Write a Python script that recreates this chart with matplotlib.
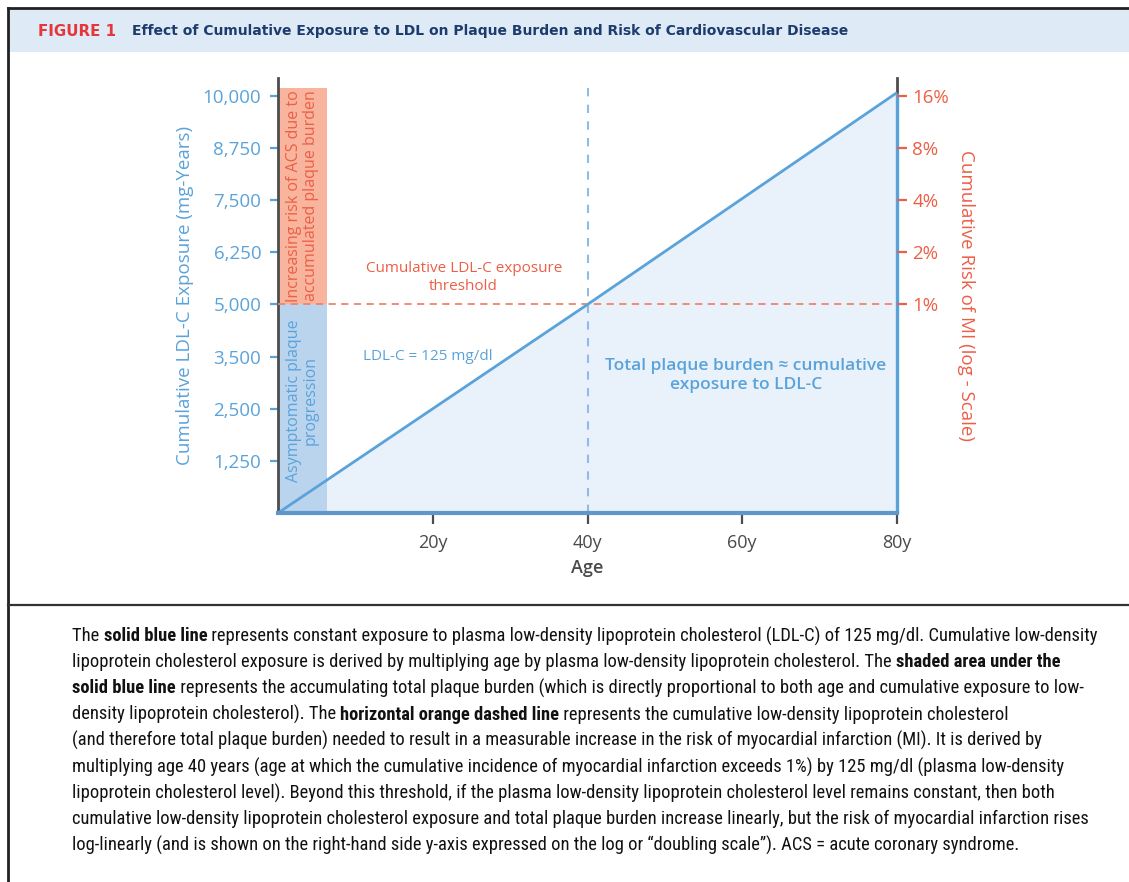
import matplotlib
matplotlib.use("Agg")
import matplotlib.pyplot as plt
from matplotlib import font_manager
from matplotlib.patches import Rectangle
from matplotlib.lines import Line2D

# ---- data ----
ages = [0, 40, 80]
exposure = [0, 5000, 10080]          # mg-years, LDL-C = 125 mg/dl
threshold = 5000
threshold_age = 40
band_width = 6.3                     # width of the shaded side bands (years)
band_top = 10200

left_ticks = [1250, 2500, 3750, 5000, 6250, 7500, 8750, 10000]
left_labels = ["1,250", "2,500", "3,500", "5,000", "6,250", "7,500", "8,750", "10,000"]
risk_ticks = [1, 2, 4, 8, 16]
risk_labels = ["1%", "2%", "4%", "8%", "16%"]
x_major = [20, 40, 60, 80]
x_major_labels = ["20y", "40y", "60y", "80y"]
x_minor = [10, 30, 50, 70]

caption = [
    [("The ", 0), ("solid blue line", 1), (" represents constant exposure to plasma low-density lipoprotein cholesterol (LDL-C) of 125 mg/dl. Cumulative low-density", 0)],
    [("lipoprotein cholesterol exposure is derived by multiplying age by plasma low-density lipoprotein cholesterol. The ", 0), ("shaded area under the", 1)],
    [("solid blue line", 1), (" represents the accumulating total plaque burden (which is directly proportional to both age and cumulative exposure to low-", 0)],
    [("density lipoprotein cholesterol). The ", 0), ("horizontal orange dashed line", 1), (" represents the cumulative low-density lipoprotein cholesterol", 0)],
    [("(and therefore total plaque burden) needed to result in a measurable increase in the risk of myocardial infarction (MI). It is derived by", 0)],
    [("multiplying age 40 years (age at which the cumulative incidence of myocardial infarction exceeds 1%) by 125 mg/dl (plasma low-density", 0)],
    [("lipoprotein cholesterol level). Beyond this threshold, if the plasma low-density lipoprotein cholesterol level remains constant, then both", 0)],
    [("cumulative low-density lipoprotein cholesterol exposure and total plaque burden increase linearly, but the risk of myocardial infarction rises", 0)],
    [("log-linearly (and is shown on the right-hand side y-axis expressed on the log or \u201cdoubling scale\u201d). ACS = acute coronary syndrome.", 0)],
]

# ---- colours ----
BLUE = "#5aa3da"
FILL = "#e9f1fa"
BAR_BLUE = "#bad4ee"
BAR_ORANGE = "#f8b49d"
ORANGE = "#ec5f47"
ORANGE_DASH = "#f2836b"
GRAY = "#4a4a4a"
NAVY = "#1d3c6e"

installed = {f.name for f in font_manager.fontManager.ttflist}
NARROW = next((n for n in ["Liberation Sans Narrow", "DejaVu Sans Condensed", "Roboto Condensed",
                           "Open Sans Condensed", "Roboto"] if n in installed), "DejaVu Sans")
SANS = "Open Sans" if "Open Sans" in installed else "DejaVu Sans"
plt.rcParams["font.family"] = [SANS, "DejaVu Sans"]

W, H = 1129, 882
fig = plt.figure(figsize=(W / 100, H / 100), dpi=100)


def fx(px):
    return px / W


def fy(py):
    return 1 - py / H


# ---- frame / header ----
fig.patches.append(Rectangle((fx(9), fy(52)), 1, fy(8) - fy(52), transform=fig.transFigure,
                             facecolor="#deeaf6", edgecolor="none", zorder=0))
fig.add_artist(Line2D([fx(8), 1], [fy(8), fy(8)], color="#222222", lw=2))
fig.add_artist(Line2D([fx(8), fx(8)], [fy(8), 0], color="#222222", lw=2))
fig.add_artist(Line2D([fx(8), 1], [fy(605), fy(605)], color="#333333", lw=1.6))

fig.text(fx(38), fy(31), "FIGURE 1", color="#e3373c", fontsize=10.8, fontweight="bold",
         family="DejaVu Sans", va="center")
fig.text(fx(132), fy(31), "Effect of Cumulative Exposure to LDL on Plaque Burden and Risk of Cardiovascular Disease",
         color=NAVY, fontsize=10.0, fontweight="bold", family="DejaVu Sans", va="center")

# ---- main axes ----
ax = fig.add_axes([fx(278), fy(513), fx(897) - fx(278), fy(78) - fy(513)])
ax.set_xlim(0, 80)
ax.set_ylim(0, 10430)

ax.fill_between(ages, exposure, 0, color=FILL, zorder=1, lw=0)
ax.add_patch(Rectangle((0, 0), band_width, threshold, facecolor=BAR_BLUE, edgecolor="none", zorder=2))
ax.add_patch(Rectangle((0, threshold), band_width, band_top - threshold, facecolor=BAR_ORANGE,
                       edgecolor="none", zorder=2))
ax.plot([threshold_age, threshold_age], [0, band_top], color="#8dbde6", lw=1.5, ls=(0, (4, 4)), zorder=3)
ax.plot([0, 80], [threshold, threshold], color=ORANGE_DASH, lw=1.3, ls=(0, (4, 3)), zorder=3)
ax.plot(ages, exposure, color=BLUE, lw=2, zorder=4, solid_capstyle="butt")
ax.vlines(ages[-1], 0, exposure[-1], color=BLUE, lw=2.4, zorder=6, clip_on=False)

ax.spines["top"].set_visible(False)
ax.spines["left"].set_color("#4d4d4d")
ax.spines["left"].set_linewidth(2)
ax.spines["right"].set_color("#4d4d4d")
ax.spines["right"].set_linewidth(2)
ax.spines["right"].set_bounds(exposure[-1], 10430)
ax.spines["bottom"].set_color("#5e97c8")
ax.spines["bottom"].set_linewidth(3)
ax.spines["bottom"].set_zorder(7)

ax.set_yticks(left_ticks)
ax.set_yticklabels(left_labels)
ax.tick_params(axis="y", colors=BLUE, labelsize=13.5, length=6, width=1.6, pad=6)
ax.set_xticks(x_major)
ax.set_xticklabels(x_major_labels)
ax.set_xticks(x_minor, minor=True)
ax.tick_params(axis="x", which="both", colors="#4d4d4d", length=8, width=1.6, labelsize=13,
               labelcolor=GRAY, pad=7)
ax.set_xlabel("Age", color=GRAY, fontsize=13, fontweight="semibold", labelpad=5)
ax.set_ylabel("Cumulative LDL-C Exposure (mg-Years)", color=BLUE, fontsize=13.5, labelpad=6)

# ---- right log axis ----
ax2 = ax.twinx()
ax2.set_yscale("log", base=2)
ax2.set_ylim(2 ** -4, 2 ** 4.344)
ax2.set_yticks(risk_ticks)
ax2.set_yticklabels(risk_labels)
ax2.minorticks_off()
for s in ["top", "left", "bottom", "right"]:
    ax2.spines[s].set_visible(False)
ax2.tick_params(axis="y", colors=ORANGE, labelsize=13.5, length=7, width=1.6, pad=4)
ax2.set_ylabel("Cumulative Risk of MI (log - Scale)", color=ORANGE, fontsize=13.5,
               rotation=270, labelpad=19)

# ---- annotations ----
ax.text(band_width / 2, (threshold + band_top) / 2, "Increasing risk of ACS due to\naccumulated plaque burden",
        rotation=90, ha="center", va="center", color=ORANGE, fontsize=11.5, linespacing=1.1, zorder=6)
ax.text(band_width / 2, 2700, "Asymptomatic plaque\nprogression",
        rotation=90, ha="center", va="center", color=BLUE, fontsize=11.5, linespacing=1.1, zorder=6)
ax.text(24, 5650, "Cumulative LDL-C exposure\nthreshold", ha="center", va="center",
        color=ORANGE, fontsize=11, linespacing=1.3)
ax.text(11, 3750, "LDL-C = 125 mg/dl", ha="left", va="center", color=BLUE, fontsize=11)
ax.text(60.5, 3300, "Total plaque burden \u2248 cumulative\nexposure to LDL-C", ha="center", va="center",
        color=BLUE, fontsize=12.5, fontweight="semibold", linespacing=1.2)

# ---- caption with bold segments, sized so the first line spans the same width ----
fig.canvas.draw()
renderer = fig.canvas.get_renderer()


def place_line(segments, x, y, size):
    texts = []
    for txt, bold in segments:
        t = fig.text(x, y, txt, fontsize=size, family=NARROW, color="#111111",
                     fontweight="bold" if bold else "normal", va="center", ha="left")
        x += t.get_window_extent(renderer=renderer).width / W
        texts.append(t)
    return texts, x


probe, end = place_line(caption[0], fx(72), fy(636), 12)
for t in probe:
    t.remove()
cap_size = 12 * (fx(1097) - fx(72)) / (end - fx(72))

for i, line in enumerate(caption):
    place_line(line, fx(72), fy(636 + i * 26.2), cap_size)

fig.savefig("out.png", dpi=100)
